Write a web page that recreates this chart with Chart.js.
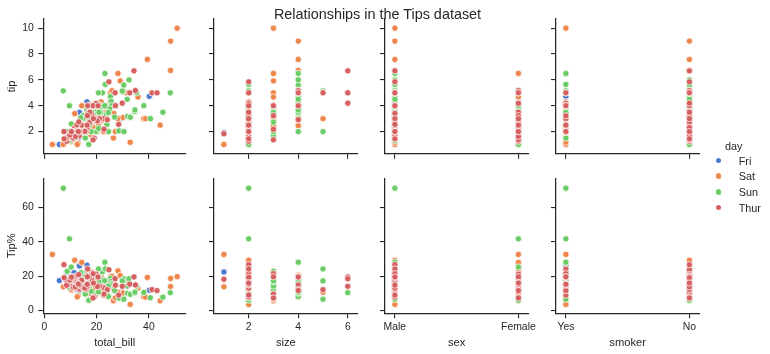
<!DOCTYPE html>
<html>
<head>
<meta charset="utf-8">
<script src="https://cdn.jsdelivr.net/npm/chart.js@4.4.1/dist/chart.umd.min.js"></script>
<style>
html, body { margin: 0; padding: 0; background: #ffffff; }
#wrap { position: relative; width: 770px; height: 354px; overflow: hidden;
        font-family: "Liberation Sans", Arial, sans-serif; color: #262626; }
#wrap canvas { position: absolute; left: 0; top: 0; }
#title { position: absolute; left: 0; width: 755px; top: 6px; text-align: center;
         font-size: 14.4px; line-height: 16px; white-space: nowrap; }
#legend { position: absolute; left: 700px; top: 0; width: 70px; height: 354px; font-size: 10.8px; }
.lg-title { position: absolute; left: 0; width: 67.4px; text-align: center; top: 138.7px; line-height: 14px; }
.lg-item { position: absolute; left: 0; height: 14px; line-height: 14px; width: 70px; }
.lg-dot { position: absolute; left: 15.5px; top: 4.2px; width: 5.6px; height: 5.6px; border-radius: 50%; }
.lg-text { position: absolute; left: 38.7px; top: 0; }
</style>
</head>
<body>
<div id="wrap">
  <canvas id="p0" width="770" height="354"></canvas>
  <canvas id="p1" width="770" height="354"></canvas>
  <canvas id="p2" width="770" height="354"></canvas>
  <canvas id="p3" width="770" height="354"></canvas>
  <canvas id="p4" width="770" height="354"></canvas>
  <canvas id="p5" width="770" height="354"></canvas>
  <canvas id="p6" width="770" height="354"></canvas>
  <canvas id="p7" width="770" height="354"></canvas>
  <div id="title">Relationships in the Tips dataset</div>
  <div id="legend"></div>
</div>
<script>
// ---------------- DATA (tips dataset, 244 rows, as plotted) ----------------
const totalBill = [
16.99,10.34,21.01,23.68,24.59,25.29,8.77,26.88,15.04,14.78,
10.27,35.26,15.42,18.43,14.83,21.58,10.33,16.29,16.97,20.65,
17.92,20.29,15.77,39.42,19.82,17.81,13.37,12.69,21.70,19.65,
9.55,18.35,15.06,20.69,17.78,24.06,16.31,16.93,18.69,31.27,
16.04,17.46,13.94,9.68,30.40,18.29,22.23,32.40,28.55,18.04,
12.54,10.29,34.81,9.94,25.56,19.49,38.01,26.41,11.24,48.27,
20.29,13.81,11.02,18.29,17.59,20.08,16.45,3.07,20.23,15.01,
12.02,17.07,26.86,25.28,14.73,10.51,17.92,27.20,22.76,17.29,
19.44,16.66,10.07,32.68,15.98,34.83,13.03,18.28,24.71,21.16,
28.97,22.49,5.75,16.32,22.75,40.17,27.28,12.03,21.01,12.46,
11.35,15.38,44.30,22.42,20.92,15.36,20.49,25.21,18.24,14.31,
14.00,7.25,38.07,23.95,25.71,17.31,29.93,10.65,12.43,24.08,
11.69,13.42,14.26,15.95,12.48,29.80,8.52,14.52,11.38,22.82,
19.08,20.27,11.17,12.26,18.26,8.51,10.33,14.15,16.00,13.16,
17.47,34.30,41.19,27.05,16.43,8.35,18.64,11.87,9.78,7.51,
14.07,13.13,17.26,24.55,19.77,29.85,48.17,25.00,13.39,16.49,
21.50,12.66,16.21,13.81,17.51,24.52,20.76,31.71,10.59,10.63,
50.81,15.81,7.25,31.85,16.82,32.90,17.89,14.48,9.60,34.63,
34.65,23.33,45.35,23.17,40.55,20.69,20.90,30.46,18.15,23.10,
15.69,19.81,28.44,15.48,16.58,7.56,10.34,43.11,13.00,13.51,
18.71,12.74,13.00,16.40,20.53,16.47,26.59,38.73,24.27,12.76,
30.06,25.89,48.33,13.27,28.17,12.90,28.15,11.59,7.74,30.14,
12.16,13.42,8.58,15.98,13.42,16.27,10.09,20.45,13.28,22.12,
24.01,15.69,11.61,10.77,15.53,10.07,12.60,32.83,35.83,29.03,
27.18,22.67,17.82,18.78
];
const tip = [
1.01,1.66,3.50,3.31,3.61,4.71,2.00,3.12,1.96,3.23,
1.71,5.00,1.57,3.00,3.02,3.92,1.67,3.71,3.50,3.35,
4.08,2.75,2.23,7.58,3.18,2.34,2.00,2.00,4.30,3.00,
1.45,2.50,3.00,2.45,3.27,3.60,2.00,3.07,2.31,5.00,
2.24,2.54,3.06,1.32,5.60,3.00,5.00,6.00,2.05,3.00,
2.50,2.60,5.20,1.56,4.34,3.51,3.00,1.50,1.76,6.73,
3.21,2.00,1.98,3.76,2.64,3.15,2.47,1.00,2.01,2.09,
1.97,3.00,3.14,5.00,2.20,1.25,3.08,4.00,3.00,2.71,
3.00,3.40,1.83,5.00,2.03,5.17,2.00,4.00,5.85,3.00,
3.00,3.50,1.00,4.30,3.25,4.73,4.00,1.50,3.00,1.50,
2.50,3.00,2.50,3.48,4.08,1.64,4.06,4.29,3.76,4.00,
3.00,1.00,4.00,2.55,4.00,3.50,5.07,1.50,1.80,2.92,
2.31,1.68,2.50,2.00,2.52,4.20,1.48,2.00,2.00,2.18,
1.50,2.83,1.50,2.00,3.25,1.25,2.00,2.00,2.00,2.75,
3.50,6.70,5.00,5.00,2.30,1.50,1.36,1.63,1.73,2.00,
2.50,2.00,2.74,2.00,2.00,5.14,5.00,3.75,2.61,2.00,
3.50,2.50,2.00,2.00,3.00,3.48,2.24,4.50,1.61,2.00,
10.00,3.16,5.15,3.18,4.00,3.11,2.00,2.00,4.00,3.55,
3.68,5.65,3.50,6.50,3.00,5.00,3.50,2.00,3.50,4.00,
1.50,4.19,2.56,2.02,4.00,1.44,2.00,5.00,2.00,2.00,
4.00,2.01,2.00,2.50,4.00,3.23,3.41,3.00,2.03,2.23,
2.00,5.16,9.00,2.50,6.50,1.10,3.00,1.50,1.44,3.09,
2.20,3.48,1.92,3.00,1.58,2.50,2.00,3.00,2.72,2.88,
2.00,3.00,3.39,1.47,3.00,1.25,1.00,1.17,4.67,5.92,
2.00,2.00,1.75,3.00
];
const sex = [
'F','M','M','M','F','M','M','M','M','M',
'M','F','M','M','F','M','F','M','F','M',
'M','F','F','M','M','M','M','M','M','F',
'M','M','F','F','M','M','M','F','M','M',
'M','M','M','M','M','M','M','M','M','M',
'M','F','F','M','M','M','M','F','M','M',
'M','M','M','M','M','M','F','F','M','M',
'M','F','F','F','F','M','M','M','M','M',
'M','M','F','M','M','F','M','M','M','M',
'M','M','F','F','F','M','M','M','M','M',
'F','F','F','F','F','M','M','M','M','F',
'M','F','M','M','F','F','M','F','F','F',
'M','F','M','M','F','F','M','F','F','M',
'M','F','F','F','F','F','F','F','M','F',
'F','M','M','F','F','F','F','F','M','M',
'M','M','M','M','M','F','M','F','F','M',
'M','M','F','M','F','M','M','M','F','F',
'M','M','M','M','M','M','M','M','F','M',
'M','M','M','M','M','M','F','M','F','M',
'M','F','M','M','M','M','M','F','F','M',
'M','F','F','F','M','F','M','M','M','F',
'M','M','M','F','F','F','M','M','M','F',
'M','F','M','F','M','F','F','M','M','F',
'M','M','M','M','M','M','M','M','F','M',
'F','M','M','F'
];
const smoker = [
'N','N','N','N','N','N','N','N','N','N',
'N','N','N','N','N','N','N','N','N','N',
'N','N','N','N','N','N','N','N','N','N',
'N','N','N','N','N','N','N','N','N','N',
'N','N','N','N','N','N','N','N','N','N',
'N','N','N','N','N','N','Y','N','Y','N',
'Y','Y','Y','Y','N','N','N','Y','N','Y',
'N','N','Y','Y','N','N','Y','N','N','N',
'Y','N','N','Y','N','N','N','N','N','N',
'Y','N','Y','Y','N','Y','Y','Y','Y','N',
'Y','Y','Y','Y','N','Y','Y','Y','N','Y',
'N','N','N','N','N','N','N','N','N','N',
'N','N','N','N','N','N','N','N','N','N',
'N','N','N','N','N','N','N','N','Y','N',
'N','N','N','N','N','N','N','N','N','N',
'N','N','N','N','N','N','N','N','N','N',
'N','N','N','N','Y','N','N','N','Y','Y',
'Y','Y','Y','Y','Y','Y','Y','Y','Y','Y',
'Y','Y','Y','Y','Y','N','Y','Y','Y','Y',
'Y','Y','Y','Y','Y','N','Y','Y','Y','Y',
'Y','Y','Y','Y','Y','Y','Y','Y','Y','Y',
'Y','Y','N','Y','Y','Y','Y','Y','Y','Y',
'Y','Y','Y','N','Y','Y','Y','N','N','Y',
'Y','Y','N','N','Y','N','Y','Y','N','N',
'Y','Y','N','N'
];
const day = [
'Sun','Sun','Sun','Sun','Sun','Sun','Sun','Sun','Sun','Sun',
'Sun','Sun','Sun','Sun','Sun','Sun','Sun','Sun','Sun','Sat',
'Sat','Sat','Sat','Sat','Sat','Sat','Sat','Sat','Sat','Sat',
'Sat','Sat','Sat','Sat','Sat','Sat','Sat','Sat','Sat','Sat',
'Sat','Sun','Sun','Sun','Sun','Sun','Sun','Sun','Sun','Sun',
'Sun','Sun','Sun','Sun','Sun','Sun','Sat','Sat','Sat','Sat',
'Sat','Sat','Sat','Sat','Sat','Sat','Sat','Sat','Sat','Sat',
'Sat','Sat','Sat','Sat','Sat','Sat','Sat','Thur','Thur','Thur',
'Thur','Thur','Thur','Thur','Thur','Thur','Thur','Thur','Thur','Thur',
'Fri','Fri','Fri','Fri','Fri','Fri','Fri','Fri','Fri','Fri',
'Fri','Fri','Sat','Sat','Sat','Sat','Sat','Sat','Sat','Sat',
'Sat','Sat','Sun','Sun','Sun','Sun','Sun','Thur','Thur','Thur',
'Thur','Thur','Thur','Thur','Thur','Thur','Thur','Thur','Thur','Thur',
'Thur','Thur','Thur','Thur','Thur','Thur','Thur','Thur','Thur','Thur',
'Thur','Thur','Thur','Thur','Thur','Thur','Thur','Thur','Thur','Thur',
'Sun','Sun','Sun','Sun','Sun','Sun','Sun','Sun','Sun','Sun',
'Sun','Sun','Sun','Sun','Sun','Sun','Sun','Sun','Sat','Sat',
'Sat','Sat','Sun','Sun','Sun','Sun','Sun','Sun','Sun','Sun',
'Sun','Sun','Sun','Sun','Sun','Sun','Sun','Sun','Sun','Sun',
'Sun','Thur','Thur','Thur','Thur','Thur','Thur','Thur','Thur','Thur',
'Thur','Thur','Thur','Thur','Thur','Thur','Sat','Sat','Sat','Sat',
'Sat','Sat','Sat','Sat','Sat','Sat','Sat','Sat','Sat','Sat',
'Fri','Fri','Fri','Fri','Fri','Fri','Fri','Sat','Sat','Sat',
'Sat','Sat','Sat','Sat','Sat','Sat','Sat','Sat','Sat','Sat',
'Sat','Sat','Sat','Thur'
];
const size = [
2,3,3,2,4,4,2,4,2,2,
2,4,2,4,2,2,3,3,3,3,
2,2,2,4,2,4,2,2,2,2,
2,4,2,4,2,3,3,3,3,3,
3,2,2,2,4,2,2,4,3,2,
2,2,4,2,4,2,4,2,2,4,
2,2,2,4,3,3,2,1,2,2,
2,3,2,2,2,2,2,4,2,2,
2,2,1,2,2,4,2,2,2,2,
2,2,2,2,2,4,2,2,2,2,
2,2,3,2,2,2,2,2,2,2,
2,1,3,2,3,2,4,2,2,4,
2,2,2,2,2,6,2,2,2,3,
2,2,2,2,2,2,2,2,2,2,
2,6,5,6,2,2,3,2,2,2,
2,2,3,4,4,5,6,4,2,4,
4,2,3,2,2,3,2,4,2,2,
3,2,2,2,2,2,2,2,2,2,
4,2,3,4,2,5,3,5,3,3,
2,2,2,2,2,2,2,4,2,2,
3,2,2,2,4,3,3,4,2,2,
3,4,4,2,3,2,5,2,2,4,
2,2,1,3,2,2,2,4,2,2,
4,3,2,2,2,2,2,2,3,3,
2,2,2,2
];

// categories and tick labels
const dayLevels = ['Fri', 'Sat', 'Sun', 'Thur'];
const sexCodes = ['M', 'F'];
const sexLabels = ['Male', 'Female'];
const smokerCodes = ['Y', 'N'];
const smokerLabels = ['Yes', 'No'];
const tipTicks = [2, 4, 6, 8, 10];
const pctTicks = [0, 20, 40, 60];
const billTicks = [0, 20, 40];
const sizeTicks = [2, 4, 6];
const catTicks = [0, 1];

// Tip% is the plotted derived column: 100 * tip / total_bill
const tipPct = tip.map((t, i) => 100 * t / totalBill[i]);

// ---------------- STYLE / LAYOUT ----------------
const FONT = '"Liberation Sans", Arial, sans-serif';
const INK = '#262626';
const TICK_FONT = 10.4;
const LABEL_FONT = 11.2;
const dayColors = { Fri: '#4878d0', Sat: '#ee854a', Sun: '#6acc64', Thur: '#d65f5f' };
const dayDrawOrder = { Fri: 3, Sat: 2, Sun: 1, Thur: 0 }; // Thur drawn on top
const W = 770, H = 354;
const YW = 43.3;
const cols = [ { L: 43.3, R: 186 }, { L: 214, R: 357.7 }, { L: 385, R: 528.3 }, { L: 556, R: 699.3 } ];
const rows = [ { T: 19, B: 153.7, XH: 20 }, { T: 178.3, B: 313.3, XH: 40.7 } ];

const xVars = [
  { name: 'total_bill', vals: totalBill, min: -0.4, max: 54.2, ticks: billTicks, fmt: v => String(v) },
  { name: 'size', vals: size, min: 0.6, max: 6.4, ticks: sizeTicks, fmt: v => String(v) },
  { name: 'sex', vals: sex.map(s => sexCodes.indexOf(s)), min: -0.08, max: 1.08, ticks: catTicks, fmt: v => sexLabels[v] },
  { name: 'smoker', vals: smoker.map(s => smokerCodes.indexOf(s)), min: -0.08, max: 1.08, ticks: catTicks, fmt: v => smokerLabels[v] }
];
const yVars = [
  { name: 'tip', vals: tip, min: 0.29, max: 10.71, ticks: tipTicks },
  { name: 'Tip%', vals: tipPct, min: -1.6, max: 76.8, ticks: pctTicks }
];

function scaleOpts(horizontal, v, showLabels, title, fitSize) {
  return {
    type: 'linear',
    bounds: 'data',
    min: v.min,
    max: v.max,
    afterBuildTicks: s => { s.ticks = v.ticks.map(t => ({ value: t })); },
    afterFit: s => { if (horizontal) s.height = fitSize; else s.width = fitSize; },
    ticks: {
      autoSkip: false, maxRotation: 0, minRotation: 0,
      padding: horizontal ? 2.2 : 4.5,
      color: INK,
      font: { family: FONT, size: TICK_FONT },
      callback: val => showLabels ? (v.fmt ? v.fmt(val) : String(val)) : ''
    },
    grid: { display: true, drawOnChartArea: false, drawTicks: true, tickLength: 5,
            tickColor: INK, tickWidth: 1.1, lineWidth: 1.1, color: INK },
    border: { display: true, color: INK, width: 1.25 },
    title: title ? {
      display: true, text: title, color: INK,
      font: { family: FONT, size: LABEL_FONT },
      padding: horizontal ? { top: 0, bottom: 4.8 } : { top: 5.0, bottom: 0 }
    } : { display: false }
  };
}

let idx = 0;
rows.forEach((row, r) => {
  cols.forEach((col, c) => {
    const xv = xVars[c], yv = yVars[r];
    const datasets = dayLevels.map(d => {
      const pts = [];
      for (let i = 0; i < totalBill.length; i++) {
        if (day[i] === d) pts.push({ x: xv.vals[i], y: yv.vals[i] });
      }
      return {
        label: d, data: pts, order: dayDrawOrder[d],
        backgroundColor: dayColors[d], borderColor: '#ffffff',
        pointRadius: 3.15, pointBorderWidth: 0.75, pointHoverRadius: 3.15
      };
    });
    const xTitle = r === 1 ? xv.name : null;
    const yTitle = c === 0 ? yv.name : null;
    new Chart(document.getElementById('p' + idx), {
      type: 'scatter',
      data: { datasets },
      options: {
        responsive: false, animation: false, devicePixelRatio: 1,
        events: [],
        layout: { padding: { left: col.L - YW, right: W - col.R, top: row.T, bottom: H - row.B - row.XH } },
        plugins: { legend: { display: false }, tooltip: { enabled: false }, title: { display: false } },
        scales: {
          x: scaleOpts(true, xv, r === 1, xTitle, row.XH),
          y: scaleOpts(false, yv, c === 0, yTitle, YW)
        }
      }
    });
    idx++;
  });
});

// legend
const lg = document.getElementById('legend');
const lt = document.createElement('div');
lt.className = 'lg-title'; lt.textContent = 'day';
lg.appendChild(lt);
dayLevels.forEach((d, i) => {
  const it = document.createElement('div');
  it.className = 'lg-item';
  it.style.top = (153.7 + 15.6 * i) + 'px';
  const dot = document.createElement('div');
  dot.className = 'lg-dot'; dot.style.background = dayColors[d];
  const tx = document.createElement('div');
  tx.className = 'lg-text'; tx.textContent = d;
  it.appendChild(dot); it.appendChild(tx);
  lg.appendChild(it);
});
</script>
</body>
</html>
